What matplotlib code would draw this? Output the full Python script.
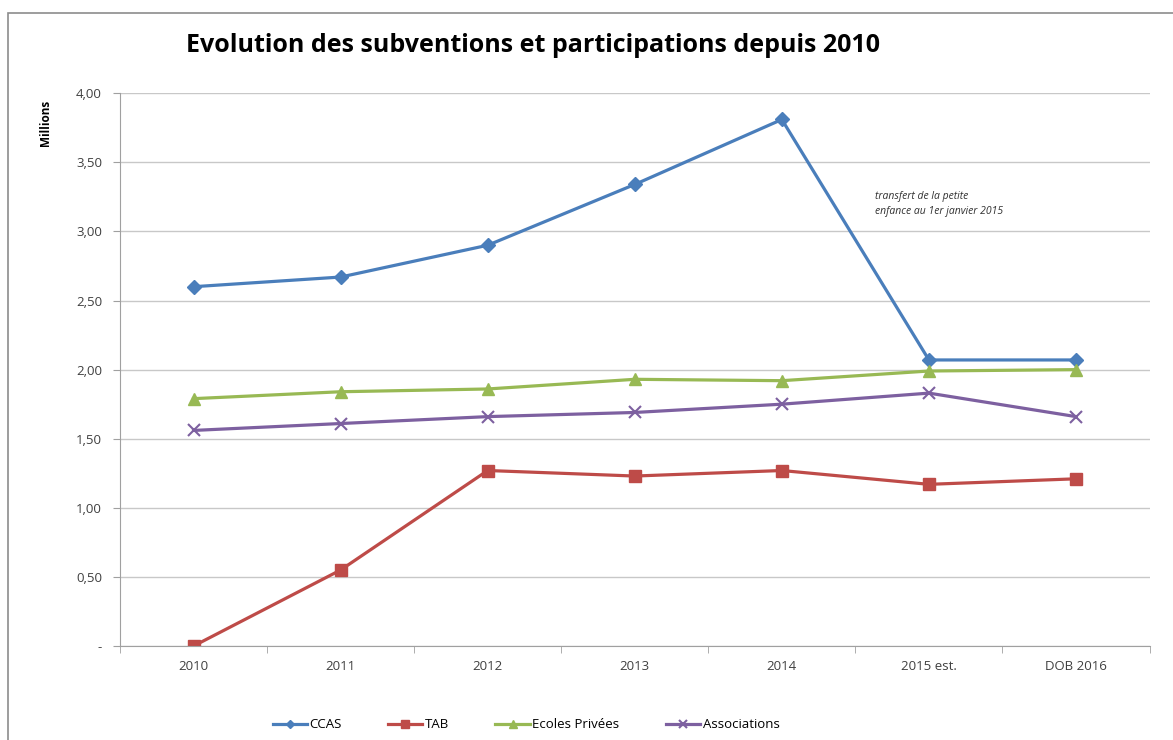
import numpy as np
import matplotlib.pyplot as plt
from matplotlib.patches import Rectangle
from matplotlib.ticker import FixedLocator, FuncFormatter

plt.rcParams['font.family'] = ['Open Sans', 'DejaVu Sans']

# data (millions)
categories = ["2010", "2011", "2012", "2013", "2014", "2015 est.", "DOB 2016"]
ccas = [2.60, 2.67, 2.90, 3.34, 3.81, 2.07, 2.07]
tab = [0.00, 0.55, 1.27, 1.23, 1.27, 1.17, 1.21]
ecoles = [1.79, 1.84, 1.86, 1.93, 1.92, 1.99, 2.00]
associations = [1.56, 1.61, 1.66, 1.69, 1.75, 1.83, 1.66]

fig = plt.figure(figsize=(11.73, 7.4), dpi=100)
ax = fig.add_axes([0.1023, 0.127, 0.8777, 0.747])

# outer chart frame
fig.patches.append(Rectangle((8 / 1173, -0.1), 1.2, 1 - 13 / 740 + 0.1, transform=fig.transFigure,
                             fill=False, edgecolor='#8c8c8c', linewidth=1.2))

x = np.arange(len(categories))
ax.plot(x, ccas, color='#4A7EBB', lw=2.3, marker='D', ms=7, label='CCAS')
ax.plot(x, tab, color='#BE4B48', lw=2.3, marker='s', ms=9, label='TAB')
ax.plot(x, ecoles, color='#98B954', lw=2.3, marker='^', ms=9, label='Ecoles Privées')
ax.plot(x, associations, color='#7D60A0', lw=2.3, marker='x', ms=9, mew=1.5, label='Associations')

ax.set_xlim(-0.5, len(categories) - 0.5)
ax.set_ylim(0, 4)
ax.set_yticks(np.arange(0, 4.01, 0.5))
ax.yaxis.set_major_formatter(FuncFormatter(lambda v, _: '-' if v == 0 else f"{v:.2f}".replace('.', ',')))
ax.grid(axis='y', color='#c8c8c8', lw=1)
ax.set_axisbelow(True)

ax.set_xticks(x)
ax.set_xticklabels(categories)
ax.xaxis.set_minor_locator(FixedLocator(np.arange(-0.5, len(categories), 1.0)))
ax.tick_params(axis='x', which='major', length=0, pad=10, labelsize=9.5, labelcolor='#404040')
ax.tick_params(axis='x', which='minor', length=5, color='#a0a0a0')
ax.tick_params(axis='y', length=5, color='#a0a0a0', labelsize=9.5, labelcolor='#404040', pad=8)

for s in ['top', 'right']:
    ax.spines[s].set_visible(False)
for s in ['left', 'bottom']:
    ax.spines[s].set_color('#a0a0a0')

fig.text(45 / 1173, 1 - 123 / 740, 'Millions', rotation=90, ha='center', va='center',
         fontsize=8.5, fontweight='bold')
fig.text(533 / 1173, 1 - 45 / 740, 'Evolution des subventions et participations depuis 2010',
         ha='center', va='center', fontsize=18, fontweight='bold')
ax.text(0.733, 0.80, 'transfert de la petite\nenfance au 1er janvier 2015', transform=ax.transAxes,
        fontsize=7.5, style='italic', color='#303030', va='center', ha='left', linespacing=1.5)

fig.legend(loc='center', bbox_to_anchor=(526 / 1173, 1 - 725 / 740), ncol=4, frameon=False,
           fontsize=9.5, columnspacing=3.5, handlelength=2.6, handletextpad=0.2, markerscale=0.6)

fig.savefig('out.png', dpi=100)
